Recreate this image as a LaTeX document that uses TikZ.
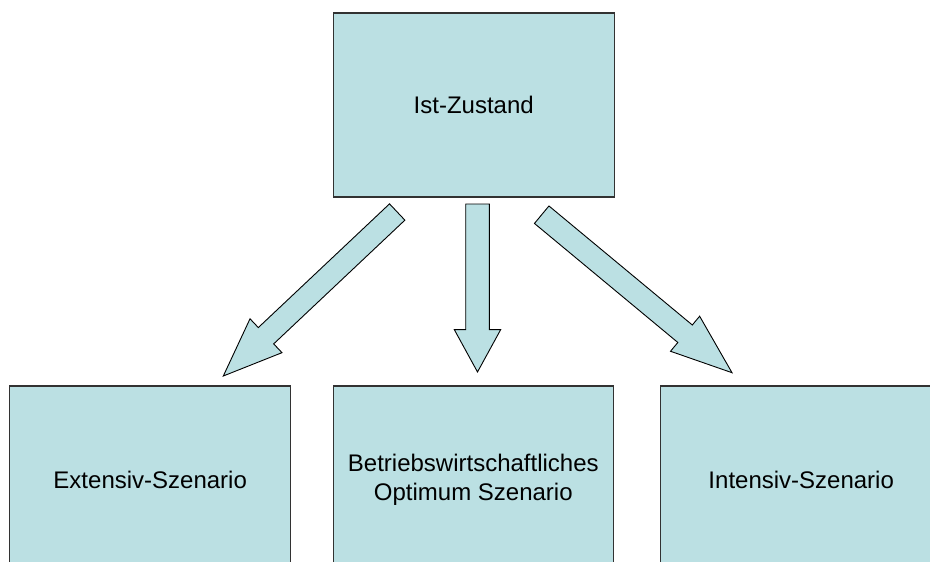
\documentclass[tikz,border=0pt]{standalone}
\usepackage{fontspec}
\setmainfont{Liberation Sans}
\usetikzlibrary{calc}
\definecolor{boxfill}{RGB}{187,224,227}
\definecolor{boxline}{RGB}{50,50,50}
\newcommand{\blockarr}[5]{%
  \coordinate (#1#2b) at ($(#2)!#5!(#1)$);
  \draw[blockarrow] ($(#1)!#3!90:(#2)$) -- ($(#1#2b)!#3!90:(#2)$) -- ($(#1#2b)!#4!90:(#2)$) -- (#2)
    -- ($(#1#2b)!#4!-90:(#2)$) -- ($(#1#2b)!#3!-90:(#2)$) -- ($(#1)!#3!-90:(#2)$) -- cycle;}
\begin{document}
\begin{tikzpicture}[x=1pt,y=-1pt,
  box/.style={draw=boxline, line width=1.3pt, fill=boxfill, minimum width=281pt,
    minimum height=184pt, inner sep=0pt, align=center,
    font=\fontsize{24}{29}\selectfont},
  blockarrow/.style={draw=black, line width=0.9pt, fill=boxfill, line join=miter}]
\useasboundingbox (0,0) rectangle (930,562);
\node[box] (ist) at (473.7,105) {Ist-Zustand};
\node[box, minimum height=187pt] (ext) at (150.2,479.5) {Extensiv-Szenario};
\node[box, minimum height=187pt, minimum width=280pt] (opt) at (473.3,479.5) {Betriebswirtschaftliches\\Optimum Szenario};
\node[box, minimum height=187pt] (int) at (801.2,479.5) {Intensiv-Szenario};
\coordinate (lt) at (397.2,212);
\coordinate (lp) at (223.3,376);
\coordinate (mt) at (477.5,204);
\coordinate (mp) at (477.5,372);
\coordinate (rt) at (541.7,214.7);
\coordinate (rp) at (732,372.7);
\blockarr{lt}{lp}{11.2pt}{23.3pt}{58.7pt}
\blockarr{mt}{mp}{11.8pt}{23.2pt}{42.4pt}
\blockarr{rt}{rp}{11.35pt}{22.8pt}{61pt}
\end{tikzpicture}
\end{document}
